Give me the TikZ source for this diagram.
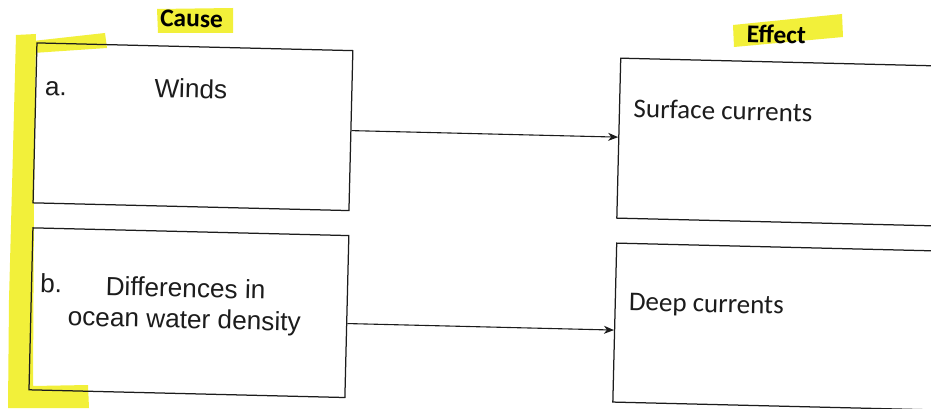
\documentclass[tikz,border=0pt]{standalone}
\usepackage{fontspec}
\setmainfont{Liberation Sans}
\newfontfamily\calib{Carlito}
\usetikzlibrary{arrows.meta,calc}
\definecolor{hilite}{RGB}{242,240,58}
\definecolor{ink}{RGB}{28,28,28}
\tikzset{
  card/.style={draw=ink, line width=1.25pt, fill=none, rectangle, inner sep=0pt},
  label/.style={inner sep=0pt, text=ink, font=\fontsize{26.2}{31}\selectfont},
  tag/.style={inner sep=0pt, text=ink, font=\calib\fontsize{27}{32}\selectfont},
  head/.style={inner sep=0pt, text=black, font=\calib\bfseries\fontsize{25.5}{30}\selectfont},
  link/.style={draw=ink, line width=1.1pt, -{Stealth[length=10pt,width=8pt,inset=3pt]}},
  marker/.style={fill=hilite, draw=none}
}
\begin{document}
\begin{tikzpicture}[x=1pt,y=-1pt]
  \useasboundingbox (0,0) rectangle (931,409);
  \clip (0,0) rectangle (931,409);
  \fill[white] (0,0) rectangle (931,409);

  % highlighter strokes
  \fill[marker] (16,35) -- (36,34) -- (34,200) -- (33,386) -- (88,385)
     -- (89,408) -- (8,408) -- (9,300) -- (13,150) -- cycle;
  \fill[marker] (33,41) -- (105,33) -- (107,48) -- (33,53) -- cycle;
  \fill[marker] (157,9) -- (233,8) -- (233,33) -- (158,33) -- cycle;
  \fill[marker] (733,25) -- (842,14) -- (843,37) -- (734,47) -- cycle;

  \begin{scope}[rotate=-1.4, transform shape]
    % headings
    \node[head, anchor=base] (cause) at (192,22.4) {Cause};
    \node[head, anchor=base] (effect) at (777,24.4) {Effect};

    % boxes
    \node[card, minimum width=316pt, minimum height=160pt] (a) at (196,122) {};
    \node[card, minimum width=316pt, minimum height=162pt] (b) at (196.5,308) {};
    \node[card, minimum width=378pt, minimum height=160pt] (s) at (811,123) {};
    \node[card, minimum width=378pt, minimum height=159pt] (d) at (811.5,307.5) {};

    % box texts
    \node[label, anchor=base west] (alab) at (47,94) {a.};
    \node[label, anchor=base] (winds) at (193,93.4) {Winds};
    \node[label, anchor=base west] (blab) at (47,291) {b.};
    \node[label, anchor=base] (diff) at (192.6,292.5) {Differences in};
    \node[label, anchor=base] (ocean) at (192,323.6) {ocean water density};
    \node[tag, anchor=base west] (surf) at (636,102) {Surface currents};
    \node[tag, anchor=base west] (deep) at (636,295) {Deep currents};

    % connectors
    \draw[link] (a.east) -- (a.east -| s.west);
    \draw[link] ([yshift=-7pt]b.east) -- ([yshift=-7pt]b.east -| d.west);
  \end{scope}
\end{tikzpicture}
\end{document}
